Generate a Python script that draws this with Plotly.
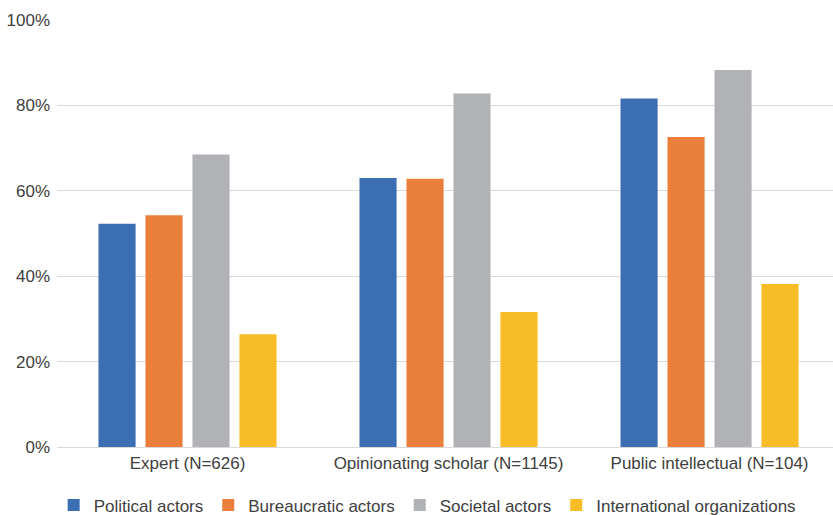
import plotly.graph_objects as go

# Share of each scholar type reporting contact with each actor group
roles = ["Expert (N=626)", "Opinionating scholar (N=1145)", "Public intellectual (N=104)"]
political = [0.523, 0.630, 0.816]
bureaucratic = [0.543, 0.628, 0.726]
societal = [0.685, 0.828, 0.883]
international = [0.264, 0.316, 0.382]

series = [
    ("Political actors", political, "#3C6EB4"),
    ("Bureaucratic actors", bureaucratic, "#EA7F3B"),
    ("Societal actors", societal, "#B1B2B5"),
    ("International organizations", international, "#F8BC27"),
]

font_family = "Liberation Sans, Arial, sans-serif"
text_color = "#404040"

fig = go.Figure()
for name, values, color in series:
    fig.add_trace(go.Bar(
        name=name,
        x=roles,
        y=values,
        marker=dict(color=color, line=dict(width=0)),
    ))

fig.update_layout(
    width=833,
    height=515,
    barmode="group",
    bargap=0.28,
    bargroupgap=0.21,
    plot_bgcolor="white",
    paper_bgcolor="white",
    margin=dict(l=57, r=0, t=19.5, b=67.7, autoexpand=False),
    font=dict(family=font_family, size=17, color=text_color),
    legend=dict(
        orientation="h",
        x=0.477,
        xanchor="center",
        y=-0.137,
        yanchor="middle",
        font=dict(size=17, color=text_color),
        itemwidth=30,
    ),
    xaxis=dict(
        range=[-0.5, 2.473],
        showgrid=False,
        showline=False,
        ticks="",
        ticklabelstandoff=4,
        tickfont=dict(size=17, color=text_color),
    ),
    yaxis=dict(
        range=[0, 1],
        dtick=0.2,
        tickformat=".0%",
        showgrid=True,
        gridcolor="#D9D9D9",
        gridwidth=1,
        zeroline=True,
        zerolinecolor="#D9D9D9",
        zerolinewidth=1,
        showline=False,
        ticks="",
        ticklabelstandoff=6,
        tickfont=dict(size=17, color=text_color),
    ),
)

fig.write_html("out.html")
